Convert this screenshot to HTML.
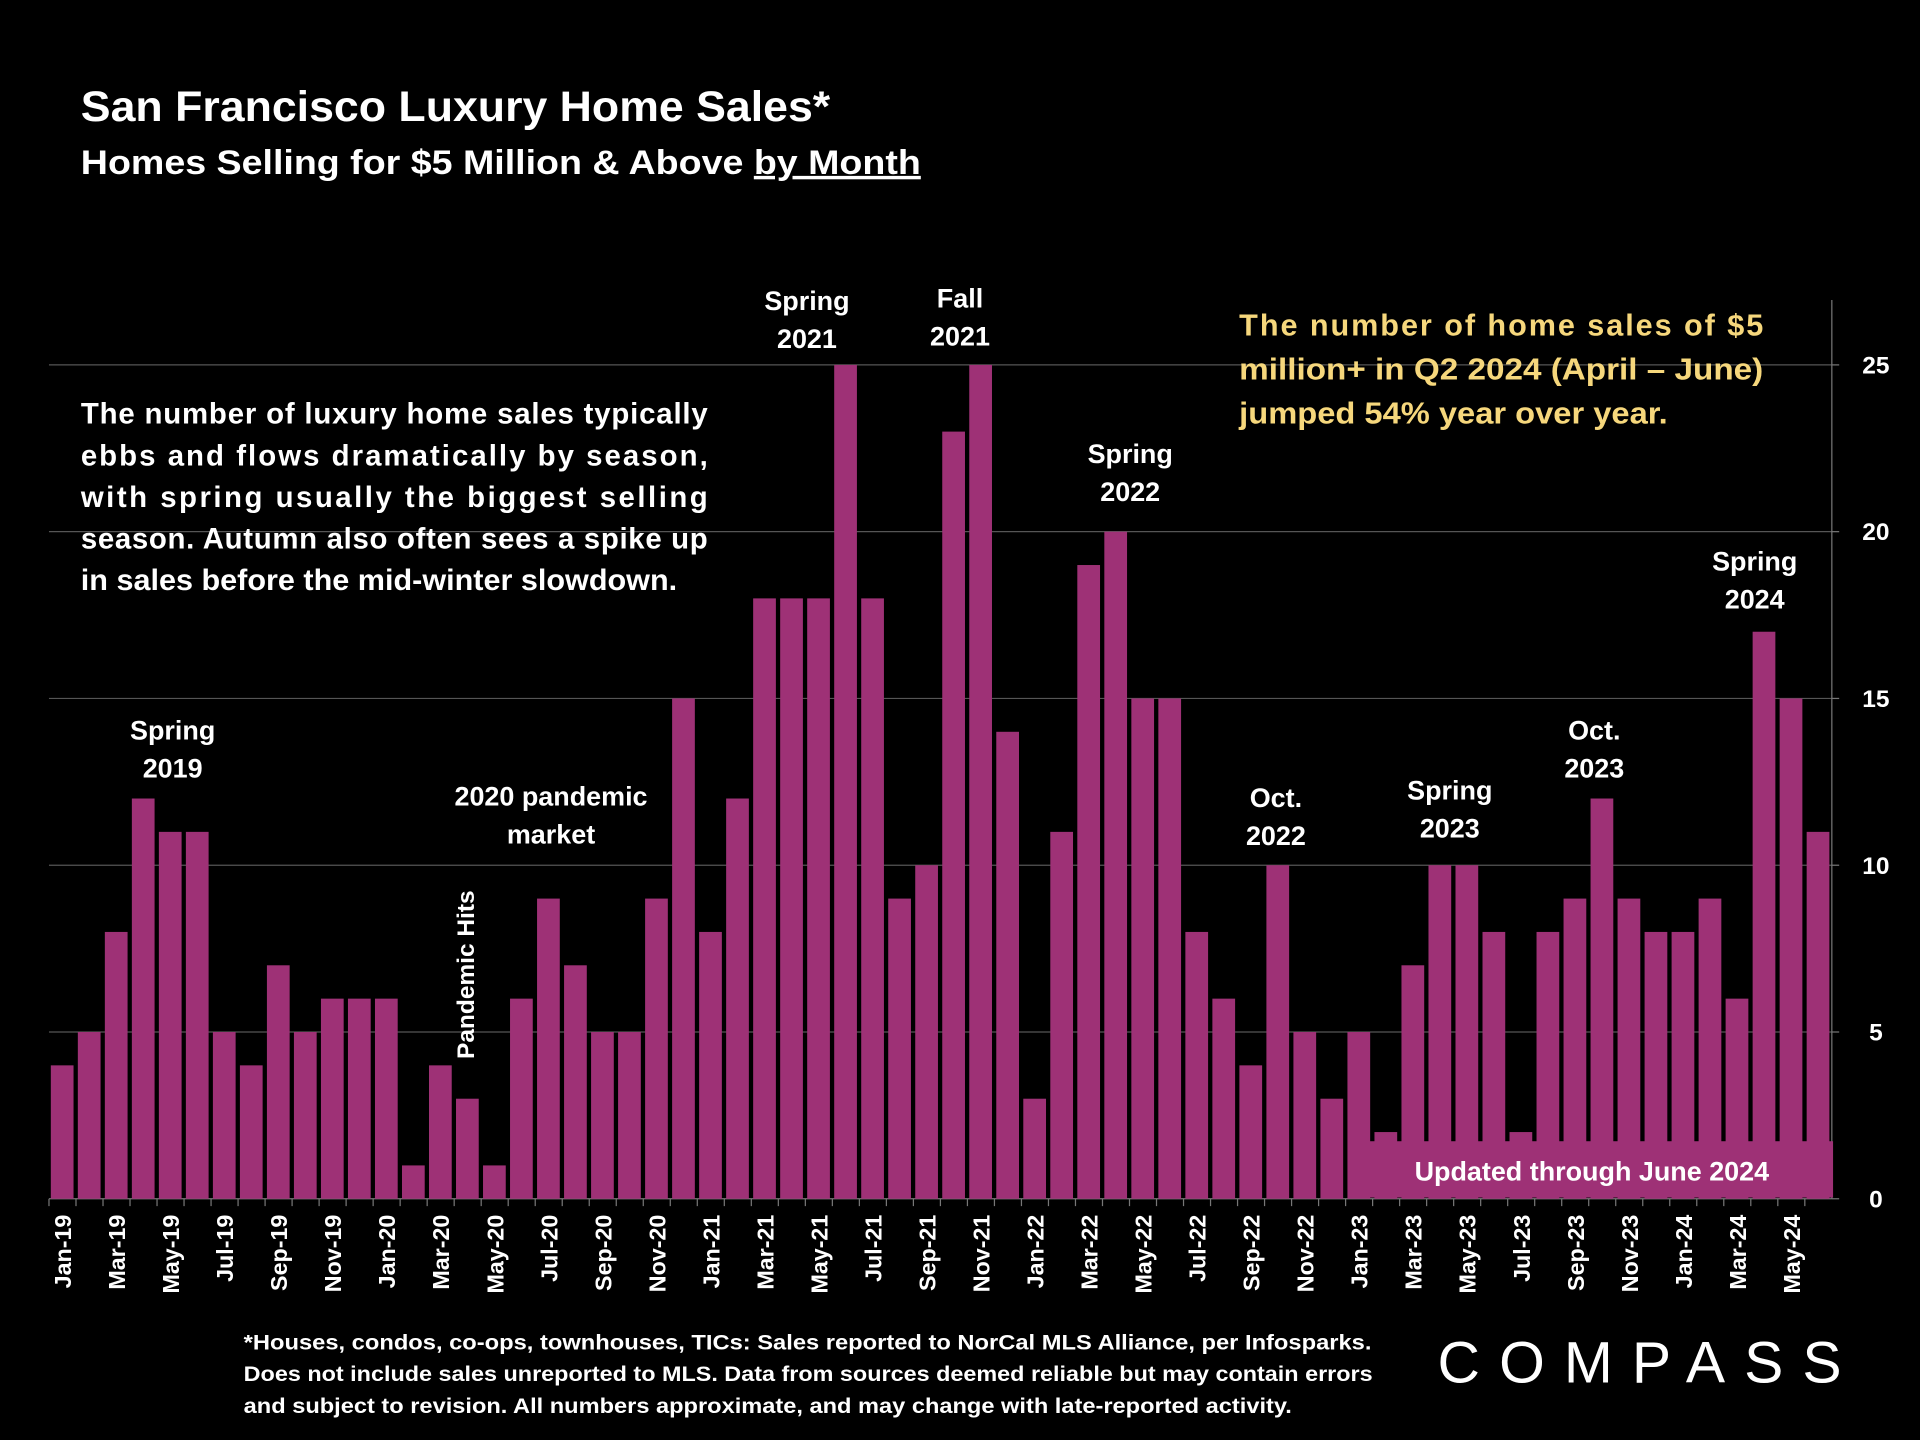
<!DOCTYPE html>
<html><head><meta charset="utf-8"><style>
html,body{margin:0;padding:0;background:#000;}
svg{display:block;}
text{font-family:"Liberation Sans",sans-serif;font-weight:bold;fill:#fff;}
</style></head><body>
<svg id="chart" width="1920" height="1440" viewBox="0 0 1568 1176">
<rect width="1568" height="1176" fill="#000"/>
<text x="66" y="99" font-size="35" textLength="612" lengthAdjust="spacingAndGlyphs">San Francisco Luxury Home Sales*</text>
<text x="66" y="142" font-size="28" textLength="686" lengthAdjust="spacingAndGlyphs">Homes Selling for $5 Million &amp; Above <tspan text-decoration="underline">by Month</tspan></text>
<g id="grid"></g>
<g id="bars"></g>
<g id="yticks"></g>
<g id="xticks"></g>
<g font-size="24">
<text x="66" y="346" textLength="512" lengthAdjust="spacing">The number of luxury home sales typically</text>
<text x="66" y="380" textLength="512" lengthAdjust="spacing">ebbs and flows dramatically by season,</text>
<text x="66" y="414" textLength="512" lengthAdjust="spacing">with spring usually the biggest selling</text>
<text x="66" y="448" textLength="512" lengthAdjust="spacing">season. Autumn also often sees a spike up</text>
<text x="66" y="482" textLength="487" lengthAdjust="spacingAndGlyphs">in sales before the mid-winter slowdown.</text>
</g>
<g font-size="25">
<text x="1012" y="274" style="fill:#f6d77c" textLength="428" lengthAdjust="spacing">The number of home sales of $5</text>
<text x="1012" y="310" style="fill:#f6d77c" textLength="428" lengthAdjust="spacingAndGlyphs">million+ in Q2 2024 (April – June)</text>
<text x="1012" y="346" style="fill:#f6d77c" textLength="350" lengthAdjust="spacingAndGlyphs">jumped 54% year over year.</text>
</g>
<g font-size="22" text-anchor="middle">
<text x="141" y="604">Spring</text><text x="141" y="635">2019</text>
<text x="450" y="658">2020 pandemic</text><text x="450" y="689">market</text>
<text x="659" y="253">Spring</text><text x="659" y="284">2021</text>
<text x="784" y="251">Fall</text><text x="784" y="282">2021</text>
<text x="923" y="378">Spring</text><text x="923" y="409">2022</text>
<text x="1042" y="659">Oct.</text><text x="1042" y="690">2022</text>
<text x="1184" y="653">Spring</text><text x="1184" y="684">2023</text>
<text x="1302" y="604">Oct.</text><text x="1302" y="635">2023</text>
<text x="1433" y="466">Spring</text><text x="1433" y="497">2024</text>
<text transform="translate(387,796) rotate(-90)" font-size="20">Pandemic Hits</text>
</g>
<g>
<rect x="1103" y="932" width="394" height="46" fill="#9e3176"/>
<text x="1300" y="964" font-size="22" text-anchor="middle">Updated through June 2024</text>
</g>
<g font-size="17.5">
<text x="199" y="1102" textLength="921" lengthAdjust="spacingAndGlyphs">*Houses, condos, co-ops, townhouses, TICs:  Sales reported to NorCal MLS Alliance, per Infosparks.</text>
<text x="199" y="1128" textLength="922" lengthAdjust="spacingAndGlyphs">Does not include sales unreported to MLS. Data from sources deemed reliable but may contain errors</text>
<text x="199" y="1154" textLength="856" lengthAdjust="spacingAndGlyphs">and subject to revision.  All numbers approximate, and may change with late-reported activity.</text>
</g>
<text x="1174" y="1129" font-size="48" textLength="330" lengthAdjust="spacing" style="font-weight:normal">COMPASS</text>
<script>
const values=[4,5,8,12,11,11,5,4,7,5,6,6, 6,1,4,3,1,6,9,7,5,5,9,15, 8,12,18,18,18,25,18,9,10,23,25,14, 3,11,19,20,15,15,8,6,4,10,5,3, 5,2,7,10,10,8,2,8,9,12,9,8, 8,9,6,17,15,11];
const monthNames=["Jan","Feb","Mar","Apr","May","Jun","Jul","Aug","Sep","Oct","Nov","Dec"];
const yTicks=[0,5,10,15,20,25];
const NS="http://www.w3.org/2000/svg";
const x0=40,x1=1496,y0=979,yTop=298,maxV=25;
const pitch=(x1-x0)/values.length;
function xScale(i){return x0+i*pitch;}
function yScale(v){return y0-(v/maxV)*(y0-yTop);}
function mk(t,a){const e=document.createElementNS(NS,t);for(const k in a)e.setAttribute(k,a[k]);return e;}
const grid=document.getElementById('grid'),bars=document.getElementById('bars'),yt=document.getElementById('yticks'),xt=document.getElementById('xticks');
yTicks.forEach(v=>{
  if(v>0){const l=mk('line',{x1:x0,x2:x1,y1:yScale(v),y2:yScale(v),stroke:'#555','stroke-width':1});
  
  
  grid.appendChild(l);}
  const tk=mk('line',{x1:x1,x2:x1+6,y1:yScale(v),y2:yScale(v),stroke:'#777'});grid.appendChild(tk);
  const t=mk('text',{x:1532,y:yScale(v)+7,'font-size':20,'text-anchor':'middle'});t.textContent=v;
  
  
  yt.appendChild(t);
});
grid.appendChild(mk('line',{x1:x1,x2:x1,y1:245,y2:y0,stroke:'#777'}));
grid.appendChild(mk('line',{x1:x0,x2:x1,y1:y0,y2:y0,stroke:'#777'}));
values.forEach((v,i)=>{
  const r=mk('rect',{x:xScale(i)+1.5,y:yScale(v),width:pitch-3.5,height:y0-yScale(v),fill:'#9e3176'});
  
  
  bars.appendChild(r);
  grid.appendChild(mk('line',{x1:xScale(i),x2:xScale(i),y1:y0,y2:y0+6,stroke:'#777'}));
  if(i%2===0){
    const cx=xScale(i)+pitch/2+7;
    const t=mk('text',{transform:`translate(${cx},992) rotate(-90)`,'font-size':19,'text-anchor':'end'});
    t.textContent=monthNames[i%12]+'-'+(19+Math.floor(i/12));
    
    
    xt.appendChild(t);
  }
});
</script>
</svg>
</body></html>
